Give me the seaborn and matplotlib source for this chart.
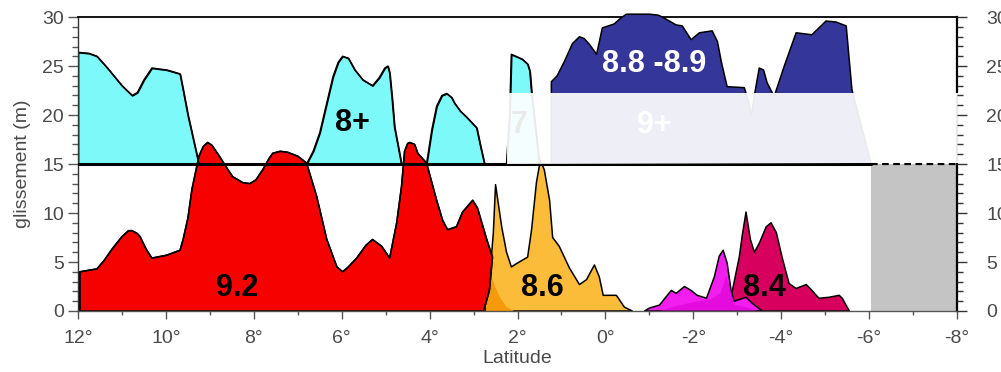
import matplotlib
matplotlib.use("Agg")
import matplotlib.pyplot as plt
import seaborn as sns
from matplotlib.patches import Polygon

# ---- slip profiles (latitude in degrees, slip in metres) ----
# upper row: historical ruptures plotted on a 15 m offset
cyan_lat = [12.0, 11.75, 11.57, 11.35, 11.0, 10.77, 10.65, 10.50, 10.32, 9.98, 9.75, 9.68,
            9.61, 9.50, 9.41, 9.25,
            6.80, 6.65, 6.50, 6.30, 6.20, 6.08, 5.98, 5.85, 5.70, 5.52, 5.30, 5.15, 5.02,
            4.95, 4.91, 4.85, 4.80, 4.64,
            4.07, 3.95, 3.84, 3.72, 3.61, 3.50, 3.43, 3.30, 3.16, 2.93, 2.85, 2.75,
            2.25, 2.18, 2.14, 1.89, 1.77, 1.72, 1.68, 1.50]
cyan_slip = [26.4, 26.3, 26.0, 24.9, 23.0, 22.0, 22.3, 23.6, 24.8, 24.6, 24.3, 24.2,
             22.6, 20.0, 18.2, 15.0,
             15.0, 16.3, 18.2, 22.0, 23.9, 25.4, 26.0, 25.8, 24.6, 23.6, 23.0, 23.8, 24.8,
             25.0, 24.3, 21.5, 18.8, 15.0,
             15.0, 18.5, 20.9, 22.0, 22.2, 21.8, 21.2, 20.4, 19.8, 18.7, 17.0, 15.0,
             15.0, 20.0, 26.2, 25.7, 25.2, 24.5, 22.3, 15.0]

navy_lat = [1.23, 1.23, 1.10, 0.93, 0.75, 0.59, 0.48, 0.36, 0.20, 0.07, -0.20, -0.35,
            -0.48, -1.00, -1.20, -1.30, -1.61, -1.75, -1.95, -2.14, -2.43, -2.55,
            -2.64, -2.77, -3.16, -3.25, -3.32, -3.39, -3.50, -3.60, -3.68, -3.84,
            -4.07, -4.34, -4.70, -5.02, -5.25, -5.48, -5.61, -6.05]
navy_slip = [15.0, 23.4, 24.0, 25.5, 27.3, 28.0, 27.8, 27.2, 26.2, 28.9, 29.3, 29.9,
             30.3, 30.3, 30.2, 30.0, 29.2, 29.1, 27.7, 28.4, 28.6, 27.5,
             25.4, 22.9, 22.8, 21.5, 20.0, 22.0, 24.8, 24.6, 23.3, 21.9,
             25.0, 28.4, 28.2, 29.6, 29.5, 29.1, 22.6, 15.0]

# lower row: modern ruptures
red_lat = [11.96, 11.96, 11.57, 11.40, 11.23, 11.00, 10.85, 10.77, 10.65, 10.59, 10.45,
           10.32, 9.98, 9.68, 9.61, 9.50, 9.41, 9.25, 9.15, 9.05, 8.95, 8.77, 8.60,
           8.48, 8.25, 8.09, 7.95, 7.80, 7.65, 7.57, 7.40, 7.23, 7.00, 6.80, 6.57,
           6.34, 6.11, 5.98, 5.85, 5.66, 5.45, 5.30, 5.09, 4.91, 4.75, 4.64, 4.57,
           4.50, 4.45, 4.34, 4.27, 4.07, 3.84, 3.70, 3.59, 3.39, 3.25, 3.02, 2.91,
           2.70, 2.57, 2.64, 2.77]
red_slip = [0.0, 4.0, 4.3, 5.2, 6.3, 7.6, 8.2, 8.2, 7.9, 7.6, 6.3,
            5.4, 5.7, 6.2, 7.3, 9.5, 12.4, 15.8, 16.8, 17.2, 16.9, 15.7, 14.5,
            13.7, 13.1, 13.0, 13.4, 14.4, 15.6, 16.1, 16.3, 16.2, 15.8, 15.1, 11.7,
            7.3, 4.5, 4.0, 4.5, 5.4, 6.7, 7.3, 6.6, 5.4, 9.0, 12.7, 16.3,
            17.1, 17.2, 17.0, 16.1, 15.1, 11.3, 9.2, 8.3, 8.6, 10.1, 11.3, 10.5,
            7.3, 5.5, 2.1, 0.0]

orange_lat = [2.73, 2.64, 2.55, 2.50, 2.36, 2.25, 2.14, 2.00, 1.77, 1.68, 1.57, 1.48,
              1.39, 1.27, 1.20, 1.05, 0.82, 0.59, 0.43, 0.25, 0.14, 0.05, -0.25,
              -0.43, -0.61]
orange_slip = [0.0, 3.0, 8.0, 12.9, 8.6, 6.0, 4.5, 4.9, 5.5, 8.3, 13.1, 15.4,
               14.4, 11.3, 7.5, 6.6, 4.4, 2.7, 3.2, 4.7, 3.5, 1.6, 1.6,
               0.4, 0.0]

orange_core_lat = [2.72, 2.70, 2.62, 2.50, 2.40, 2.25, 2.08]
orange_core_slip = [0.0, 5.0, 3.8, 2.4, 1.4, 0.4, 0.0]

crimson_lat = [-2.84, -2.89, -3.05, -3.11, -3.20, -3.30, -3.39, -3.50, -3.66, -3.77,
               -3.89, -4.02, -4.18, -4.34, -4.57, -4.70, -4.86, -5.09, -5.32, -5.39,
               -5.55]
crimson_slip = [0.0, 2.1, 5.6, 7.6, 10.1, 7.3, 6.0, 6.9, 8.6, 9.0,
                8.0, 5.5, 2.8, 2.3, 2.7, 2.1, 1.3, 1.4, 1.6, 1.3,
                0.0]

magenta_lat = [-0.89, -1.00, -1.23, -1.50, -1.61, -1.80, -1.95, -2.09, -2.30, -2.48,
               -2.59, -2.68, -2.77, -2.86, -2.93, -3.07, -3.20, -3.34, -3.57]
magenta_slip = [0.0, 0.3, 0.6, 2.1, 1.8, 2.5, 2.1, 1.6, 1.3, 3.5,
                5.6, 6.2, 4.9, 2.1, 1.0, 1.2, 1.4, 0.8, 0.0]

magenta_core_lat = [-1.25, -1.60, -2.00, -2.40, -2.62, -2.75, -2.86, -2.95, -3.20, -3.45]
magenta_core_slip = [0.0, 0.5, 0.9, 1.2, 1.8, 3.6, 2.0, 0.6, 0.4, 0.0]

# unknown segment and row offset
gap_lat = [-6.05, -8.0]
gap_top = 15.0
offset_level = 15.0

x_ticks = [12, 10, 8, 6, 4, 2, 0, -2, -4, -6, -8]
y_ticks = [0, 5, 10, 15, 20, 25, 30]

# ---- style ----
sns.set_theme(style="ticks")
plt.rcParams["font.family"] = ["Liberation Sans", "DejaVu Sans"]
plt.rcParams["axes.unicode_minus"] = False

TXT = "#4a4a4a"
fig = plt.figure(figsize=(10.01, 3.72), dpi=100)
ax = fig.add_axes([0.078, 0.164, 0.878, 0.790])
ax.set_xlim(12, -8)
ax.set_ylim(0, 30)

EDGE = dict(edgecolor="black", linewidth=1.1, joinstyle="round")

# grey block for the unknown segment
ax.fill_between(gap_lat, 0, gap_top, color="#c4c4c4", linewidth=0, zorder=1)

# upper row
ax.fill_between(cyan_lat, offset_level, cyan_slip, facecolor="#7ef9f9", zorder=2, **EDGE)
ax.fill(navy_lat, navy_slip, facecolor="#35369a", zorder=3, clip_on=False, **EDGE)

# lower row
ax.fill(orange_lat, orange_slip, facecolor="#fbbc3a", zorder=2, **EDGE)
ax.fill(orange_core_lat, orange_core_slip, facecolor="#f59a0c", linewidth=0, zorder=2.1)
ax.fill(red_lat, red_slip, facecolor="#f70000", zorder=2.2, **EDGE)
ax.fill(crimson_lat, crimson_slip, facecolor="#d7005f", zorder=2, **EDGE)
ax.fill(magenta_lat, magenta_slip, facecolor="#f21ef0", zorder=2.3, **EDGE)
ax.fill(magenta_core_lat, magenta_core_slip, facecolor="#dc00d0", alpha=0.6,
        linewidth=0, zorder=2.4)

# outlines of the profiles traced with seaborn
for lat, slip in [(cyan_lat, cyan_slip), (red_lat, red_slip)]:
    sns.lineplot(x=lat, y=slip, sort=False, estimator=None, color="black",
                 linewidth=1.1, ax=ax, zorder=2.5)

# 15 m separator between the two rows
ax.plot([12, gap_lat[0]], [offset_level, offset_level], color="black", lw=2.2, zorder=4)
ax.plot(gap_lat, [offset_level, offset_level], color="black", lw=1.6,
        ls=(0, (3, 2)), zorder=4, clip_on=False)

# label seen through the translucent band
ax.text(1.95, 19.0, "7", fontsize=22, fontweight="bold", color="black",
        ha="center", va="center", zorder=5)

# translucent band over the upper row
band = Polygon([(2.25, 15.0), (2.25, 22.3), (-8.08, 22.3), (-8.08, 15.1), (-6.05, 15.1)],
               closed=True, facecolor="white", alpha=0.92, linewidth=0, zorder=6,
               clip_on=False)
ax.add_patch(band)

# magnitude labels
lab = dict(fontsize=22, fontweight="bold", ha="center", va="center", zorder=7)
ax.text(8.39, 2.35, "9.2", color="black", **lab)
ax.text(5.75, 19.2, "8+", color="black", **lab)
ax.text(-1.11, 19.0, "9+", color="white", **lab)
ax.text(-1.11, 25.2, "8.8 -8.9", color="white", **lab)
ax.text(1.43, 2.35, "8.6", color="black", **lab)
ax.text(-3.61, 2.35, "8.4", color="black", **lab)

# axes, ticks and labels
ax.set_xticks(x_ticks)
ax.set_xticklabels([f"{v}°" for v in x_ticks])
ax.set_xticks(range(11, -8, -2), minor=True)
ax.set_yticks(y_ticks)
ax.set_yticks(range(0, 31), minor=True)
ax.tick_params(axis="y", which="major", length=7, width=1, color="#555555",
               labelsize=14, labelcolor=TXT, pad=3, direction="out")
ax.tick_params(axis="y", which="minor", length=4, width=1, color="#555555",
               direction="out", left=True)
ax.tick_params(axis="x", which="major", length=6, width=1, color="#555555",
               labelsize=14, labelcolor=TXT, pad=8, direction="out")
ax.tick_params(axis="x", which="minor", length=3, width=1, color="#555555",
               direction="out", bottom=True)
ax.set_xlabel("Latitude", fontsize=14, color=TXT, labelpad=2)
ax.set_ylabel("glissement (m)", fontsize=14, color=TXT, labelpad=8)

for side, lw, col in [("left", 1.0, "#333333"), ("bottom", 1.0, "#555555"),
                      ("top", 1.3, "black"), ("right", 1.6, "black")]:
    ax.spines[side].set_linewidth(lw)
    ax.spines[side].set_color(col)
    ax.spines[side].set_visible(True)
    ax.spines[side].set_zorder(2.6)

# right-hand scale (runs off the right edge of the figure)
axr = ax.twinx()
axr.set_ylim(ax.get_ylim())
axr.set_yticks(y_ticks)
axr.set_yticks(range(0, 31), minor=True)
axr.tick_params(axis="y", which="major", length=7, width=1, color="#333333",
                labelsize=14, labelcolor=TXT, pad=14, direction="out")
axr.tick_params(axis="y", which="minor", length=4, width=1, color="#333333",
                direction="out", right=True)
for s in axr.spines.values():
    s.set_visible(False)

fig.savefig("out.png", dpi=100)
